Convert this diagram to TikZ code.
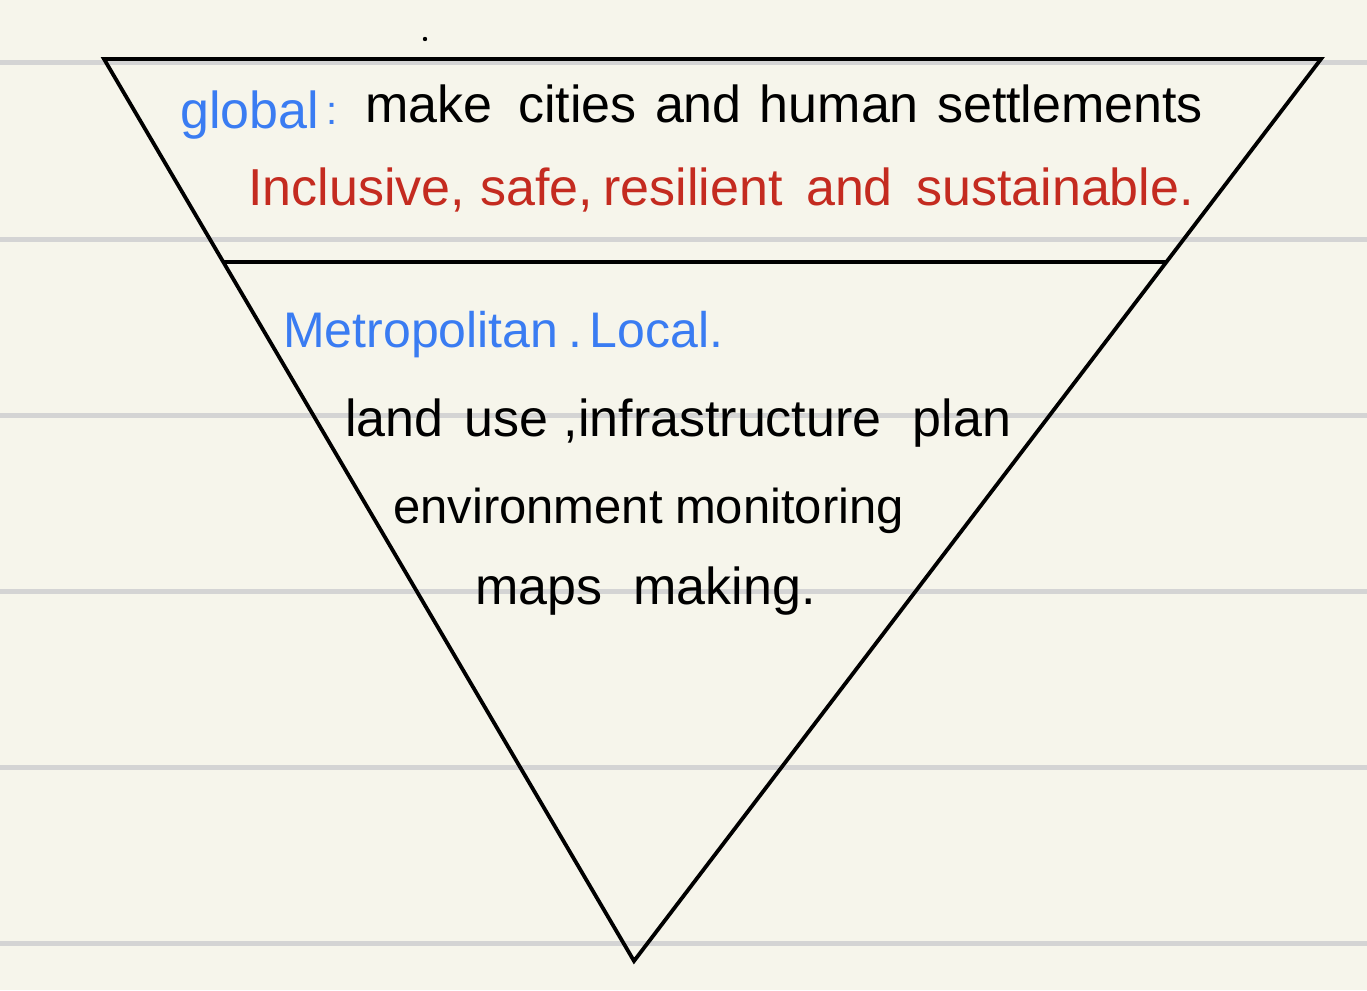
\documentclass[tikz,border=0pt]{standalone}
\usepackage{fontspec}
\setmainfont{Liberation Sans}
\usetikzlibrary{calc}
\definecolor{paper}{HTML}{F6F5EB}
\definecolor{rule}{HTML}{D4D4D4}
\definecolor{inkblue}{HTML}{3A7CF2}
\definecolor{inkred}{HTML}{C42B20}
\tikzset{
  ruleline/.style={draw=rule, line width=5pt},
  edge/.style={draw=black, line width=3.8pt, line join=miter},
  hw/.style={anchor=base west, inner sep=0pt, font=\fontsize{52}{60}\selectfont},
}
\begin{document}
\begin{tikzpicture}[x=1pt,y=-1pt]
\fill[paper] (0,0) rectangle (1367,990);
\useasboundingbox (0,0) rectangle (1367,990);
% ruled lines
\foreach \yy in {63,239,415,591,767,943}{
  \draw[ruleline] (0,\yy) -- (1367,\yy);
}
% triangle
\coordinate (tl) at (104,59);
\coordinate (tr) at (1321,59);
\coordinate (apex) at (634,961);
\draw[edge] (tl) -- (tr) -- (apex) -- cycle;
\coordinate (dl) at ($(tl)!0.2251!(apex)$);
\coordinate (dr) at ($(tr)!0.2251!(apex)$);
\draw[edge] (dl) -- (dr);
% stray dot
\fill[black] (425,39) circle (2.2);
% texts
\node[hw, text=inkblue] (glob) at (180,128) {global};
\node[hw, text=inkblue, font=\fontsize{40}{44}\selectfont] (colon) at (326,124) {:};
\node[hw] (l1) at (365,122) {make\hspace{0.5em}cities\hspace{0.35em}and\hspace{0.35em}human\hspace{0.35em}settlements};
\node[hw, text=inkred] (l2) at (248,205) {Inclusive,\hspace{0.3em}safe,\hspace{0.2em}resilient\hspace{0.45em}and\hspace{0.45em}sustainable.};
\node[hw, text=inkblue, font=\fontsize{50}{58}\selectfont] (l3) at (283,347) {Metropolitan\hspace{0.2em}.\hspace{0.15em}Local.};
\node[hw] (l4) at (345,436) {land\hspace{0.4em}use\hspace{0.3em},infrastructure\hspace{0.6em}plan};
\node[hw, font=\fontsize{49}{56}\selectfont] (l5) at (393,523) {environment\hspace{0.25em}monitoring};
\node[hw] (l6) at (475,604) {maps\hspace{0.6em}making.};
\end{tikzpicture}
\end{document}
